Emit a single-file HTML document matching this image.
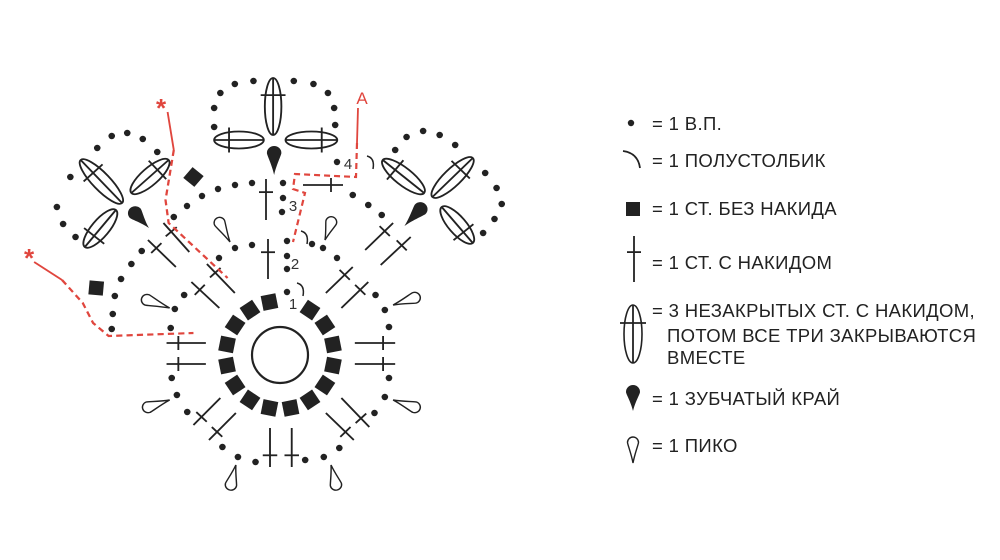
<!DOCTYPE html>
<html><head><meta charset="utf-8"><style>
html,body{margin:0;padding:0;background:#fff;width:1000px;height:560px;overflow:hidden}
svg{position:absolute;left:0;top:0}
.t{font-family:"Liberation Sans",sans-serif;font-size:18.5px;letter-spacing:0.35px;fill:#222}
</style></head><body>
<svg id="s" width="1000" height="560" viewBox="0 0 1000 560" xmlns="http://www.w3.org/2000/svg">
<g id="g" transform="scale(1.0345 1)" stroke="#222" stroke-width="1.8" fill="none"></g>
<g id="tg" stroke="#222" stroke-width="1.8" fill="none"></g>
<text x="161" y="117" fill="#e0463e" font-family="Liberation Sans,sans-serif" font-size="26" font-weight="bold" text-anchor="middle">*</text>
<text x="29" y="267" fill="#e0463e" font-family="Liberation Sans,sans-serif" font-size="26" font-weight="bold" text-anchor="middle">*</text>
<text x="362" y="104" fill="#e0463e" font-family="Liberation Sans,sans-serif" font-size="17" text-anchor="middle">A</text>
<g font-family="Liberation Sans,sans-serif" font-size="15" fill="#333" text-anchor="middle">
<text x="293" y="309">1</text><text x="295" y="269">2</text><text x="293" y="211">3</text><text x="348" y="169">4</text>
</g>
<g class="t">
<text x="652" y="130">= 1 В.П.</text>
<text x="652" y="167">= 1 ПОЛУСТОЛБИК</text>
<text x="652" y="215">= 1 СТ. БЕЗ НАКИДА</text>
<text x="652" y="269">= 1 СТ. С НАКИДОМ</text>
<text x="652" y="317">= 3 НЕЗАКРЫТЫХ СТ. С НАКИДОМ,</text>
<text x="667" y="342">ПОТОМ ВСЕ ТРИ ЗАКРЫВАЮТСЯ</text>
<text x="667" y="364">ВМЕСТЕ</text>
<text x="652" y="405">= 1 ЗУБЧАТЫЙ КРАЙ</text>
<text x="652" y="452">= 1 ПИКО</text>
</g>
</svg>
<script>
var G=document.getElementById('g'),T=document.getElementById('tg');
function add(p,h){p.insertAdjacentHTML('beforeend',h);}
function dot(p,x,y){add(p,'<circle cx="'+x+'" cy="'+y+'" r="3.2" fill="#222" stroke="none"/>');}
function line(p,a,b,c,d,col,dash){add(p,'<line x1="'+a+'" y1="'+b+'" x2="'+c+'" y2="'+d+'"'+(col?' stroke="'+col+'"':'')+(dash?' stroke-dasharray="'+dash+'" stroke-width="2.2"':'')+'/>');}
function dc(p,x1,y1,x2,y2,t){line(p,x1,y1,x2,y2);var dx=x2-x1,dy=y2-y1,l=Math.hypot(dx,dy),nx=-dy/l*7,ny=dx/l*7,cx=x1+dx*t,cy=y1+dy*t;line(p,cx-nx,cy-ny,cx+nx,cy+ny);}
function cl(p,x1,y1,x2,y2,w){var cx=(x1+x2)/2,cy=(y1+y2)/2,dx=x2-x1,dy=y2-y1,l=Math.hypot(dx,dy),a=Math.atan2(dy,dx)*180/Math.PI;
add(p,'<ellipse cx="'+cx+'" cy="'+cy+'" rx="'+(l/2)+'" ry="'+(w/2)+'" transform="rotate('+a+' '+cx+' '+cy+')"/>');line(p,x1,y1,x2,y2);
var nx=-dy/l*(w/2+4),ny=dx/l*(w/2+4),px=x1+dx*0.3,py=y1+dy*0.3;line(p,px-nx,py-ny,px+nx,py+ny);}
function drop(p,tx,ty,bx,by,r,fill){var L=Math.hypot(bx-tx,by-ty),a=Math.atan2(by-ty,bx-tx)*180/Math.PI-90;
var d='M0,0 C'+(-r*0.3)+','+(L*0.35)+' '+(-r)+','+(L-r*1.3)+' '+(-r)+','+(L-r)+' A'+r+' '+r+' 0 0 0 '+r+','+(L-r)+' C'+r+','+(L-r*1.3)+' '+(r*0.3)+','+(L*0.35)+' 0,0Z';
add(p,'<path d="'+d+'" transform="translate('+tx+' '+ty+') rotate('+a+')"'+(fill?' fill="#222" stroke="none"':' stroke-width="1.4"')+'/>');}
function sq(p,x,y,s,a){add(p,'<rect x="'+(x-s/2)+'" y="'+(y-s/2)+'" width="'+s+'" height="'+s+'" fill="#222" stroke="none" transform="rotate('+a+' '+x+' '+y+')"/>');}
function hdc(p,x,y){add(p,'<path d="M'+(x-3)+','+(y-7)+' q8,2 6,13" stroke-width="1.5"/>');}
[[227,84],[245,81],[284,81],[303,84],[317,93],[323,108],[324,125],[207,127],[207,108],[213,93],
[108,136],[123,133],[138,139],[152,152],[94,148],[68,177],[55,207],[61,224],[73,237],
[382,150],[393,137],[409,131],[425,135],[440,145],[469,173],[480,188],[485,204],[478,219],[467,233],
[341,195],[356,205],[369,215],[168,217],
[137,251],[127,264],[117,279],[111,296],[109,314],[108,329],[178,295],[169,309],[165,328],[363,295],[372,310],[376,327],
[166,378],[171,395],[181,412],[215,447],[230,457],[247,462],[295,460],[313,457],[328,448],[362,413],[372,397],[376,378]
].forEach(function(d){dot(G,d[0],d[1]);});
cl(G,264,78,264,135,16);cl(G,207,140,255,140,17);cl(G,326,140,276,140,17);
cl(G,78,160,118,203,17);cl(G,163,160,127,193,17);cl(G,82,247,112,210,17);
cl(G,370,160,410,193,17);cl(G,457,158,418,197,17);cl(G,457,243,427,207,17);
drop(G,265,175,265,146,7,true);drop(G,144,228,126,208,7,true);drop(G,391,226,411,204,7,true);
sq(G,187,177,14,40);sq(G,93,288,14,5);
[[164,308,137,298],[164,400,138,409],[228,465,222,490],[320,465,326,490],[380,305,406,296],[380,400,406,409]].forEach(function(d){drop(G,d[0],d[1],d[2],d[3],5.5,false);});
dc(G,161,343,199,343,0.3);dc(G,161,364,199,364,0.3);dc(G,382,343,343,343,0.3);dc(G,382,364,343,364,0.3);
dc(G,261,467,261,428,0.3);dc(G,282,467,282,428,0.3);
[[143,240,170,267],[158,223,183,252],[185,282,212,308],[200,264,227,293],[341,267,315,293],[356,282,330,308],[380,223,353,250],[397,237,368,265],[187,425,213,398],[202,440,228,413],[342,440,315,413],[357,427,330,398]].forEach(function(d){dc(G,d[0],d[1],d[2],d[3],0.3);});
var R='#e0463e';
line(G,162,112,168,150,R);
add(G,'<polyline points="168,150 160,200 163,223 220,278" stroke="'+R+'" stroke-width="2.2" stroke-dasharray="6 4"/>');
line(G,33,262,60,280,R);
add(G,'<polyline points="60,280 80,303 90,323 105,336 187,333" stroke="'+R+'" stroke-width="2.2" stroke-dasharray="6 4"/>');
add(T,'<circle cx="280" cy="355" r="28" stroke-width="2.2"/>');
for(var i=0;i<16;i++){var a=11.25+22.5*i;if(i==0)continue;var rad=(a-90)*Math.PI/180;sq(T,280+54*Math.cos(rad),355+54*Math.sin(rad),15,a);}
[[218,189],[235,185],[252,183],[283,183],[283,198],[282,212],[202,196],[187,206],
[235,248],[252,245],[287,241],[287,256],[287,269],[312,244],[323,248],[337,258],[219,258],[287,292],[337,162]].forEach(function(d){dot(T,d[0],d[1]);});
dc(T,268,239,268,279,0.33);dc(T,266,179,266,220,0.32);dc(T,303,185,343,185,0.7);
drop(T,230,242,217,218,5.5,false);drop(T,325,240,333,217,5.5,false);
hdc(T,304,238);hdc(T,300,290);hdc(T,370,163);
line(T,358,108,357,143,R);
add(T,'<polyline points="357,143 356,177 295,174 293,189 305,193 293,242" stroke="'+R+'" stroke-width="2.2" stroke-dasharray="6 4"/>');
dot(T,631,123);
add(T,'<path d="M623,151 q15,2 17,17" stroke-width="1.8"/>');
sq(T,633,209,14,0);
dc(T,634,236,634,282,0.35);
add(T,'<ellipse cx="633" cy="334" rx="9" ry="29" stroke-width="1.6"/>');line(T,633,305,633,363);line(T,620,323,646,323);
drop(T,633,411,633,385,7,true);
drop(T,633,463,633,437,5.5,false);
</script>
</body></html>
